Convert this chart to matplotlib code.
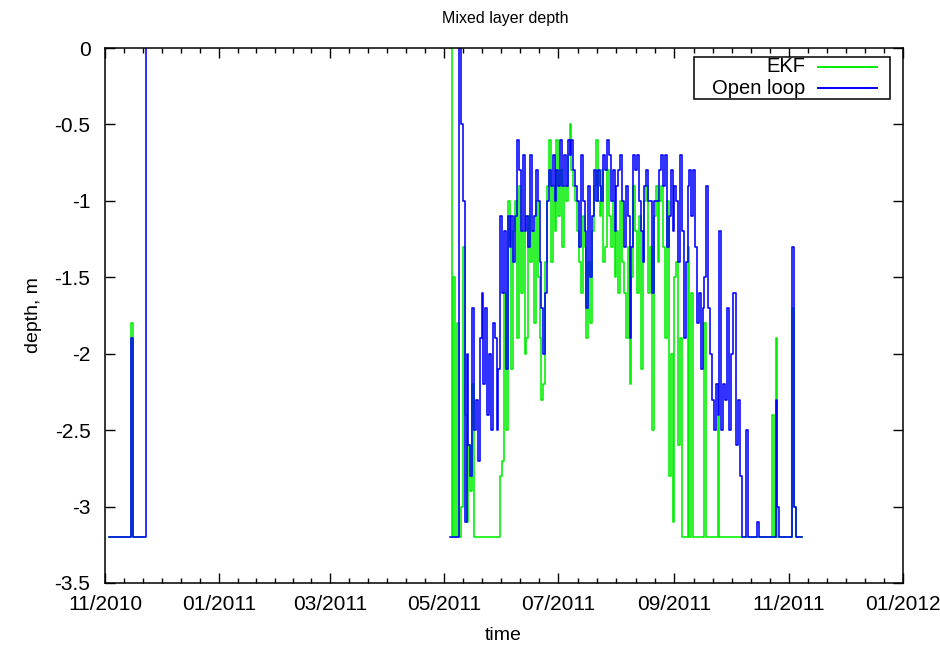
import matplotlib
matplotlib.use('Agg')
import matplotlib.pyplot as plt
import matplotlib.dates as mdates
import numpy as np
import pandas as pd
from matplotlib.patches import Rectangle
from matplotlib.lines import Line2D

plt.rcParams['font.family'] = ['Liberation Sans', 'DejaVu Sans']
plt.rcParams['axes.unicode_minus'] = False

# ---------------- data ----------------
title = 'Mixed layer depth'
xlabel = 'time'
ylabel = 'depth, m'
series_names = ['EKF', 'Open loop']
series_colors = ['#00ee00', '#0000ff']

early_start = '2010-11-03'
early_ekf = [-3.2, -3.2, -3.2, -3.2, -3.2, -3.2, -3.2, -3.2, -3.2, -3.2,
             -3.2, -3.2, -1.8, -3.2, -3.2, -3.2, -3.2, -3.2, -3.2, -3.2]
early_open = [-3.2, -3.2, -3.2, -3.2, -3.2, -3.2, -3.2, -3.2, -3.2, -3.2,
              -3.2, -3.2, -1.9, -3.2, -3.2, -3.2, -3.2, -3.2, -3.2, -3.2,
              0.0]

season_start = '2011-05-04'
season_ekf = [
    0.0, -3.2, -1.5, -3.2, -1.8, -3.2, -3.0, -1.3, -2.4, -3.1,
    -2.6, -2.9, -2.2, -3.2, -3.2, -3.2, -3.2, -3.2, -3.2, -3.2,
    -3.2, -3.2, -3.2, -3.2, -3.2, -3.2, -3.2, -2.8, -2.7, -1.6,
    -2.5, -1.0, -1.3, -2.1, -1.2, -1.0, -1.9, -0.9, -1.6, -1.2,
    -2.0, -1.9, -1.1, -1.4, -1.2, -1.8, -1.0, -1.5, -1.9, -2.3,
    -2.2, -1.4, -0.9, -0.6, -1.4, -0.9, -1.2, -0.6, -1.1, -0.8,
    -1.3, -0.9, -1.0, -0.7, -0.5, -0.8, -0.9, -1.0, -1.2, -1.4,
    -1.6, -1.1, -1.3, -1.9, -1.4, -1.8, -1.2, -0.9, -0.6, -1.0,
    -1.1, -0.8, -1.4, -1.3, -0.8, -1.1, -1.3, -1.0, -1.5, -1.2,
    -1.6, -1.0, -1.4, -1.6, -1.9, -1.3, -2.2, -1.5, -0.9, -1.2,
    -1.6, -1.1, -2.1, -1.4, -1.0, -0.9, -1.6, -1.3, -2.5, -1.1,
    -0.9, -1.4, -1.0, -0.9, -1.3, -1.9, -1.0, -2.8, -2.0, -3.1,
    -1.5, -1.4, -2.6, -1.9, -3.2, -3.2, -3.2, -1.3, -3.2, -1.6,
    -3.2, -3.2, -3.2, -3.2, -3.2, -3.2, -1.8, -3.2, -3.2, -3.2,
    -3.2, -3.2, -3.2, -2.4, -3.2, -3.2, -3.2, -3.2, -3.2, -3.2,
    -3.2, -3.2, -3.2, -3.2, -3.2, -3.2, -3.2, -3.2, -3.2, -3.2,
    -3.2, -3.2, -3.2, -3.2, -3.2, -3.2, -3.2, -3.2, -3.2, -3.2,
    -3.2, -3.2, -2.4, -3.2, -1.9, -3.2, -3.2, -3.2, -3.2, -3.2,
    -3.2, -3.2, -3.2, -1.7, -3.0, -3.2, -3.2, -3.2, -3.2]
season_open = [
    -3.2, -3.2, -3.2, -3.2, -3.2, 0.0, -0.5, -1.0, -3.1, -2.0,
    -2.6, -2.8, -1.7, -2.5, -2.3, -2.7, -1.9, -1.6, -2.2, -1.7,
    -2.4, -2.0, -2.5, -1.8, -1.9, -2.5, -2.1, -1.1, -1.6, -1.2,
    -2.1, -1.1, -1.3, -1.1, -1.4, -1.1, -0.6, -0.8, -1.2, -0.7,
    -1.2, -1.1, -1.3, -0.7, -1.2, -1.1, -0.8, -1.0, -1.4, -1.7,
    -2.0, -1.6, -1.0, -0.8, -0.9, -0.7, -1.0, -0.8, -0.9, -0.6,
    -0.9, -0.7, -0.9, -0.6, -0.7, -0.6, -0.8, -0.9, -1.0, -1.3,
    -0.7, -1.0, -1.2, -1.7, -0.9, -1.5, -1.1, -0.8, -1.0, -0.8,
    -0.9, -1.0, -0.7, -0.8, -0.6, -0.7, -1.0, -0.8, -1.2, -0.9,
    -0.8, -0.7, -1.0, -1.3, -0.9, -1.1, -1.9, -1.3, -0.7, -0.8,
    -0.7, -1.0, -1.2, -1.4, -0.9, -0.8, -1.0, -1.0, -1.6, -1.0,
    -1.0, -1.0, -0.8, -0.7, -0.9, -0.7, -1.3, -1.1, -0.8, -1.2,
    -0.9, -1.0, -1.4, -0.7, -1.2, -1.9, -1.4, -0.9, -0.8, -1.1,
    -0.8, -1.3, -1.8, -1.6, -2.1, -1.7, -1.5, -0.9, -1.7, -2.0,
    -2.3, -2.5, -2.2, -2.4, -1.2, -2.5, -2.2, -2.3, -1.7, -2.5,
    -2.0, -1.6, -1.6, -2.6, -2.3, -2.8, -3.2, -3.2, -2.5, -3.2,
    -3.2, -3.2, -3.2, -3.2, -3.1, -3.2, -3.2, -3.2, -3.2, -3.2,
    -3.2, -3.2, -3.2, -3.2, -2.3, -3.0, -3.2, -3.2, -3.2, -3.2,
    -3.2, -3.2, -3.2, -1.3, -3.0, -3.2, -3.2, -3.2, -3.2]

x_tick_dates = ['2010-11-01', '2011-01-01', '2011-03-01', '2011-05-01',
                '2011-07-01', '2011-09-01', '2011-11-01', '2012-01-01']
x_tick_labels = ['11/2010', '01/2011', '03/2011', '05/2011',
                 '07/2011', '09/2011', '11/2011', '01/2012']
y_ticks = [0, -0.5, -1, -1.5, -2, -2.5, -3, -3.5]
y_tick_labels = ['0', '-0.5', '-1', '-1.5', '-2', '-2.5', '-3', '-3.5']

# ---------------- figure ----------------
W, H = 940, 647
fig = plt.figure(figsize=(W / 100, H / 100), dpi=100)
ax = fig.add_axes([105 / W, 1 - 583 / H, 798 / W, 535 / H])

def dates(start, vals):
    return pd.date_range(start, periods=len(vals), freq='D')

for vals_e, vals_o, start in [(early_ekf, early_open, early_start),
                              (season_ekf, season_open, season_start)]:
    ax.plot(dates(start, vals_e), vals_e, color=series_colors[0], lw=1.15,
            drawstyle='steps-post')
    ax.plot(dates(start, vals_o), vals_o, color=series_colors[1], lw=1.15,
            drawstyle='steps-post')

xt = mdates.date2num(pd.to_datetime(x_tick_dates))
ax.set_xlim(xt[0], xt[-1])
ax.set_ylim(-3.5, 0)
ax.set_xticks(xt)
ax.set_xticklabels(x_tick_labels)
minor = np.concatenate([np.linspace(a, b, 7)[1:-1] for a, b in zip(xt[:-1], xt[1:])])
ax.set_xticks(minor, minor=True)
ax.set_yticks(y_ticks)
ax.set_yticklabels(y_tick_labels)

ax.tick_params(which='both', direction='in', top=True, right=True,
               labelsize=15, colors='black', width=1.0)
ax.tick_params(which='major', length=7)
ax.tick_params(which='minor', length=3.5)
ax.tick_params(axis='x', pad=9)
ax.tick_params(axis='y', pad=10.5)
for s in ax.spines.values():
    s.set_linewidth(1.1)

fig.text(505 / W, 1 - 18 / H, title, ha='center', va='center', fontsize=11.5)
fig.text(503 / W, 1 - 635 / H, xlabel, ha='center', va='center', fontsize=14)
fig.text(33 / W, 1 - 315 / H, ylabel, ha='center', va='center', rotation=90, fontsize=14)

# legend box (gnuplot style: text right-aligned, sample to the right)
fig.patches.append(Rectangle((694 / W, 1 - 99 / H), 196 / W, 42 / H,
                             transform=fig.transFigure, fill=True,
                             facecolor='white', edgecolor='black', lw=1.1, zorder=5))
for i, (name, col) in enumerate(zip(series_names, series_colors)):
    yc = 1 - (67 + 21 * i) / H
    fig.text(805 / W, yc, name, ha='right', va='center', fontsize=14.5, zorder=6)
    fig.lines.append(Line2D([818 / W, 877 / W], [yc, yc], transform=fig.transFigure,
                            color=col, lw=1.4, zorder=6))

fig.savefig('out.png', dpi=100)
